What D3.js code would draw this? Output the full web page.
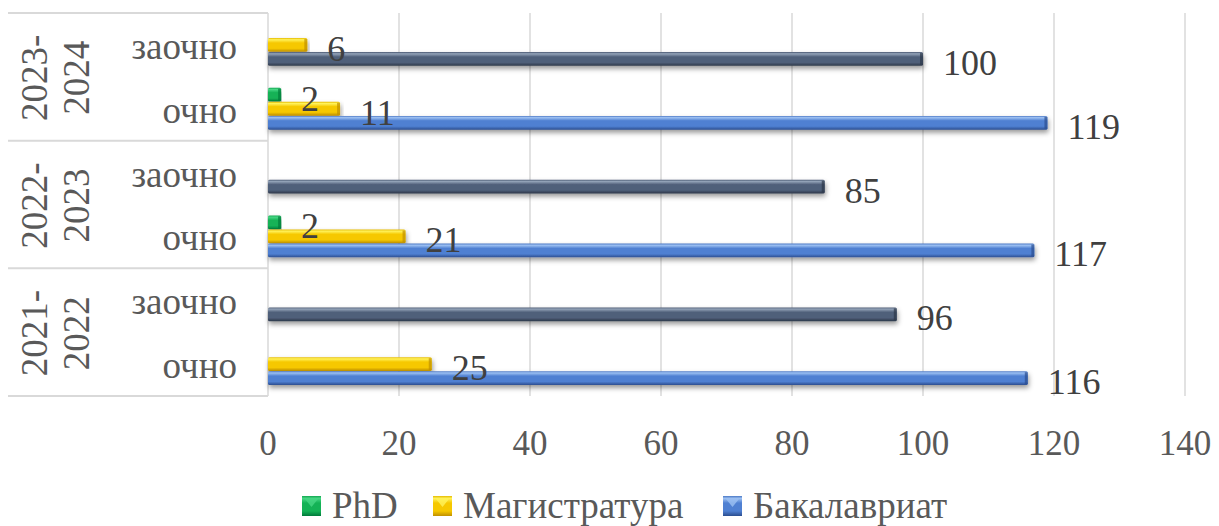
<!DOCTYPE html>
<html>
<head>
<meta charset="utf-8">
<script src="https://cdn.jsdelivr.net/npm/d3@7"></script>
<style>
  body { margin: 0; background: #fff; }
</style>
</head>
<body>
<script>
var width = 1219, height = 526;
var font = "'Liberation Serif', 'Times New Roman', Tinos, serif";

// data
var years = ["2021-2022", "2022-2023", "2023-2024"];
var forms = ["очно", "заочно"];
var series = ["PhD", "Магистратура", "Бакалавриат"];
// values per year, order: очно, заочно
var phd = [[null, null], [2, null], [2, null]];
var magistr = [[25, null], [21, null], [11, 6]];
var bakalavr = [[116, 96], [117, 85], [119, 100]];
var ticks = [0, 20, 40, 60, 80, 100, 120, 140];

var values = {"PhD": phd, "Магистратура": magistr, "Бакалавриат": bakalavr};

var colors = {
    "PhD": ["#46d683", "#14b256", "#007a3a"],
    "Магистратура": ["#fff25a", "#f6c800", "#c09000"],
    "Бакалавриат": ["#9cc0f2", "#4f80d2", "#2b4d8f"],
    "zaochno": ["#93a3b8", "#50607a", "#2c3748"]
};

var svg = d3.select("body").append("svg")
    .attr("width", width).attr("height", height)
    .attr("font-family", font).style("font-family", font);

var defs = svg.append("defs");
Object.keys(colors).forEach(function(k, i) {
    var c = colors[k];
    var g = defs.append("linearGradient").attr("id", "grad" + i)
        .attr("x1", 0).attr("y1", 0).attr("x2", 0).attr("y2", 1);
    g.append("stop").attr("offset", 0).attr("stop-color", d3.color(c[1]).darker(0.2));
    g.append("stop").attr("offset", 0.12).attr("stop-color", c[0]);
    g.append("stop").attr("offset", 0.35).attr("stop-color", c[1]);
    g.append("stop").attr("offset", 0.75).attr("stop-color", c[1]);
    g.append("stop").attr("offset", 1).attr("stop-color", c[2]);
    colors[k].id = "url(#grad" + i + ")";
});
var f = defs.append("filter").attr("id", "shadow")
    .attr("x", "-5%").attr("y", "-50%").attr("width", "110%").attr("height", "220%");
f.append("feDropShadow").attr("dx", 1).attr("dy", 3).attr("stdDeviation", 2.5)
    .attr("flood-color", "#000").attr("flood-opacity", 0.4);

var x = d3.scaleLinear().domain([0, 140]).range([268, 1185]);

// categories top to bottom
var cats = [];
years.slice().reverse().forEach(function(yr) {
    forms.slice().reverse().forEach(function(fm) {
        cats.push(yr + "|" + fm);
    });
});
var y = d3.scaleBand().domain(cats).range([13, 396]);
var ySub = d3.scaleBand().domain(series).range([0, y.bandwidth()])
    .paddingInner(0.02).paddingOuter(0.78);
var yYear = d3.scaleBand().domain(years.slice().reverse()).range([13, 396]);

// grid
svg.append("g").selectAll("line").data(ticks).enter().append("line")
    .attr("x1", function(d) { return x(d); }).attr("x2", function(d) { return x(d); })
    .attr("y1", 13).attr("y2", 396)
    .attr("stroke", "#d9d9d9").attr("stroke-width", 1.5);

// category box lines
var bounds = yYear.domain().map(function(d) { return yYear(d); }).concat([396]);
svg.append("g").selectAll("line").data(bounds).enter().append("line")
    .attr("x1", 8).attr("x2", 268)
    .attr("y1", function(d) { return d; }).attr("y2", function(d) { return d; })
    .attr("stroke", "#d9d9d9").attr("stroke-width", 2);

// bars
var bars = [];
years.forEach(function(yr, yi) {
    forms.forEach(function(fm, fi) {
        series.forEach(function(s) {
            var v = values[s][yi][fi];
            if (v == null) return;
            var col = (s === "Бакалавриат" && fm === "заочно") ? colors.zaochno : colors[s];
            bars.push({cat: yr + "|" + fm, series: s, value: v, color: col});
        });
    });
});

function barY(d) { return y(d.cat) + ySub(d.series); }

var bar = svg.append("g").selectAll("g").data(bars).enter().append("g")
    .attr("transform", function(d) { return "translate(0," + barY(d) + ")"; });
bar.append("rect")
    .attr("x", x(0)).attr("y", 0)
    .attr("width", function(d) { return x(d.value) - x(0); })
    .attr("height", ySub.bandwidth())
    .attr("rx", 1.5)
    .attr("fill", function(d) { return d.color.id; })
    .attr("filter", "url(#shadow)");
bar.append("rect")
    .attr("x", function(d) { return x(d.value) - 3; }).attr("y", 1)
    .attr("width", 3).attr("height", ySub.bandwidth() - 2)
    .attr("fill", function(d) { return d.color[2]; }).attr("opacity", 0.7);

// all texts share the serif font
function serif(sel) {
    return sel.attr("font-family", font).style("font-family", font);
}

// value labels (drawn after all bars)
svg.append("g").selectAll("text").data(bars).enter().append("text")
    .attr("x", function(d) { return x(d.value) + 20; })
    .attr("y", function(d) { return barY(d) + ySub.bandwidth() / 2 + 16; })
    .call(serif).attr("font-size", 36).attr("fill", "#404040")
    .text(function(d) { return d.value; });

// x tick labels
svg.append("g").selectAll("text").data(ticks).enter().append("text")
    .attr("x", function(d) { return x(d); }).attr("y", 455)
    .attr("text-anchor", "middle")
    .call(serif).attr("font-size", 35).attr("fill", "#595959")
    .text(function(d) { return d; });

// form labels
svg.append("g").selectAll("text").data(cats).enter().append("text")
    .attr("x", 237).attr("y", function(d) { return y(d) + y.bandwidth() / 2 + 14; })
    .attr("text-anchor", "end")
    .call(serif).attr("font-size", 37).attr("fill", "#595959")
    .text(function(d) { return d.split("|")[1]; });

// year labels, two lines rotated
var yl = svg.append("g").selectAll("g").data(years).enter().append("g");
yl.append("text")
    .attr("transform", function(d) { return "translate(47," + (yYear(d) + yYear.bandwidth() / 2 + 1) + ") rotate(-90)"; })
    .attr("text-anchor", "middle")
    .call(serif).attr("font-size", 37).attr("fill", "#595959")
    .text(function(d) { return d.split("-")[0] + "-"; });
yl.append("text")
    .attr("transform", function(d) { return "translate(89," + (yYear(d) + yYear.bandwidth() / 2 + 1) + ") rotate(-90)"; })
    .attr("text-anchor", "middle")
    .call(serif).attr("font-size", 37).attr("fill", "#595959")
    .text(function(d) { return d.split("-")[1]; });

// legend
var legendX = [302, 433, 723];
var legend = svg.append("g").selectAll("g").data(series).enter().append("g")
    .attr("transform", function(d, i) { return "translate(" + legendX[i] + ",0)"; });
legend.append("rect")
    .attr("x", 0).attr("y", 496).attr("width", 19).attr("height", 20)
    .attr("fill", function(d) { return colors[d].id; });
legend.append("path")
    .attr("d", "M3,499 L16,499 L9.5,507 Z")
    .attr("fill", function(d) { return colors[d][0]; }).attr("opacity", 0.8);
legend.append("text")
    .attr("x", 30).attr("y", 518)
    .call(serif).attr("font-size", 37).attr("fill", "#595959")
    .text(function(d) { return d; });
</script>
</body>
</html>
